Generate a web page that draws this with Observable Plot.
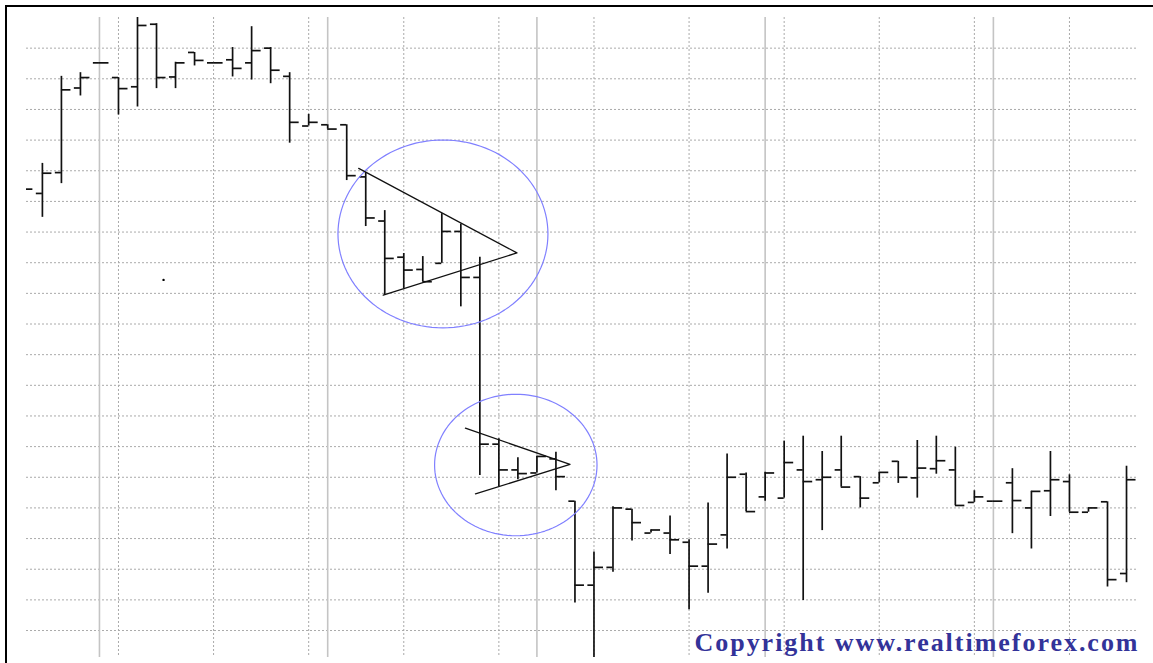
<!DOCTYPE html>
<html>
<head>
<meta charset="utf-8">
<script src="https://cdn.jsdelivr.net/npm/d3@7"></script>
<script src="https://cdn.jsdelivr.net/npm/@observablehq/plot@0.6"></script>
<style>
  html, body { margin: 0; padding: 0; background: #fff; }
  #wrap { position: relative; width: 1153px; height: 663px; overflow: hidden; }
  #frame { position: absolute; left: 5px; top: 5px; right: 0; bottom: 0;
           border-left: 2px solid #000; border-top: 2px solid #000; pointer-events: none; }
</style>
</head>
<body>
<div id="wrap"><div id="frame"></div></div>
<script>
// ---- Data (prices; one bar per session) ----
const open = [1.2720, 1.2713, 1.2747, 1.2885, 1.2926, 1.2902, 1.2887, 1.2989, 1.2903, 1.2943,
  1.2926, 1.2931, 1.2926, 1.2950, 1.2904, 1.2823, 1.2825, 1.2825, 1.2740, 1.2668,
  1.2609, 1.2589, 1.2599, 1.2651, 1.2576, 1.2304, 1.2262, 1.2257, 1.2280, 1.2211,
  1.2074, 1.2103, 1.2198, 1.2159, 1.2159, 1.2144, 1.2105, 1.2156, 1.2255, 1.2218,
  1.2216, 1.2262, 1.2246, 1.2262, 1.2251, 1.2241, 1.2276, 1.2249, 1.2264, 1.2262,
  1.2209, 1.2211, 1.2241, 1.2200, 1.2228, 1.2243, 1.2193, 1.2210, 1.2093];
const high = [1.2720, 1.2762, 1.2904, 1.2910, 1.2926, 1.2902, 1.3000, 1.2990, 1.2927, 1.2943,
  1.2926, 1.2951, 1.2985, 1.2951, 1.2910, 1.2842, 1.2825, 1.2825, 1.2747, 1.2685,
  1.2615, 1.2610, 1.2680, 1.2663, 1.2609, 1.2313, 1.2282, 1.2284, 1.2291, 1.2211,
  1.2128, 1.2202, 1.2198, 1.2164, 1.2187, 1.2148, 1.2208, 1.2288, 1.2257, 1.2258,
  1.2309, 1.2317, 1.2292, 1.2317, 1.2251, 1.2258, 1.2276, 1.2310, 1.2317, 1.2299,
  1.2228, 1.2211, 1.2264, 1.2227, 1.2292, 1.2254, 1.2200, 1.2210, 1.2268];
const low = [1.2720, 1.2674, 1.2729, 1.2872, 1.2926, 1.2841, 1.2854, 1.2884, 1.2884, 1.2921,
  1.2926, 1.2903, 1.2898, 1.2892, 1.2795, 1.2823, 1.2818, 1.2734, 1.2659, 1.2547,
  1.2558, 1.2569, 1.2599, 1.2528, 1.2253, 1.2235, 1.2246, 1.2257, 1.2228, 1.2045,
  1.1948, 1.2095, 1.2146, 1.2159, 1.2124, 1.2034, 1.2061, 1.2133, 1.2194, 1.2211,
  1.2216, 1.2049, 1.2163, 1.2234, 1.2200, 1.2241, 1.2240, 1.2216, 1.2255, 1.2204,
  1.2209, 1.2211, 1.2158, 1.2133, 1.2186, 1.2193, 1.2193, 1.2071, 1.2078];
const close = [1.2720, 1.2746, 1.2882, 1.2902, 1.2926, 1.2884, 1.2987, 1.2902, 1.2926, 1.2930,
  1.2926, 1.2917, 1.2946, 1.2914, 1.2829, 1.2829, 1.2818, 1.2742, 1.2673, 1.2607,
  1.2588, 1.2569, 1.2651, 1.2576, 1.2304, 1.2262, 1.2256, 1.2284, 1.2251, 1.2074,
  1.2103, 1.2200, 1.2176, 1.2164, 1.2148, 1.2105, 1.2141, 1.2250, 1.2194, 1.2257,
  1.2274, 1.2243, 1.2250, 1.2234, 1.2216, 1.2258, 1.2250, 1.2265, 1.2277, 1.2204,
  1.2218, 1.2211, 1.2212, 1.2227, 1.2246, 1.2193, 1.2200, 1.2083, 1.2246];

// grid levels (price) and session separators (bar index)
const priceLevels = [1.200, 1.205, 1.210, 1.215, 1.220, 1.225, 1.230, 1.235, 1.240, 1.245,
  1.250, 1.255, 1.260, 1.265, 1.270, 1.275, 1.280, 1.285, 1.290, 1.295];
const weekLines = [5, 10, 15, 20, 25, 30, 35, 40, 45, 50, 55];
const monthLines = [4, 16, 27, 39, 51];

// annotations: triangle (pennant) lines and circles
const tri1 = [{x: 17.63, y: 1.2754}, {x: 25.95, y: 1.2616}, {x: 18.92, y: 1.2547}];
const tri2 = [{x: 23.24, y: 1.2330}, {x: 28.74, y: 1.2271}, {x: 23.77, y: 1.2223}];
const ellipseCx = [22.06, 25.89];
const ellipseCy = [1.2647, 1.2270];
const ellipseRx = [5.52, 4.27];
const ellipseRy = [0.01532, 0.01154];
const strayDot = [{x: 7.37, y: 1.2572}];
const copyright = "Copyright www.realtimeforex.com";

// ---- build ----
const bars = open.map((o, i) => ({i, open: o, high: high[i], low: low[i], close: close[i]}));
const ellipsePts = [];
ellipseCx.forEach((cx, k) => {
  for (let a = 0; a <= 360; a += 3) {
    const t = a * Math.PI / 180;
    ellipsePts.push({k, x: cx + ellipseRx[k] * Math.cos(t), y: ellipseCy[k] + ellipseRy[k] * Math.sin(t)});
  }
});
const OPEN_TICK = 0.32, CLOSE_TICK = 0.5;

const chart = Plot.plot({
  width: 1153,
  height: 663,
  marginLeft: 26,
  marginRight: 15,
  marginTop: 17,
  marginBottom: 6,
  style: {background: "transparent"},
  x: {domain: [0.164, 58.63], axis: null},
  y: {domain: [1.1956, 1.3000], axis: null},
  marks: [
    Plot.ruleY(priceLevels, {stroke: "#aaa", strokeWidth: 1, strokeDasharray: "2,2"}),
    Plot.ruleX(weekLines, {stroke: "#aaa", strokeWidth: 1, strokeDasharray: "2,2"}),
    Plot.ruleX(monthLines, {stroke: "#c4c4c4", strokeWidth: 1.6}),
    Plot.ruleX(bars, {x: "i", y1: "low", y2: "high", stroke: "#111", strokeWidth: 1.7, clip: true}),
    Plot.ruleY(bars, {y: "open", x1: d => d.i - OPEN_TICK, x2: "i", stroke: "#111", strokeWidth: 1.7, clip: true}),
    Plot.ruleY(bars, {y: "close", x1: "i", x2: d => d.i + CLOSE_TICK, stroke: "#111", strokeWidth: 1.7, clip: true}),
    Plot.line(ellipsePts, {x: "x", y: "y", z: "k", stroke: "#8080ff", strokeWidth: 1.2}),
    Plot.line(tri1, {x: "x", y: "y", stroke: "#111", strokeWidth: 1.3}),
    Plot.line(tri2, {x: "x", y: "y", stroke: "#111", strokeWidth: 1.3}),
    Plot.dot(strayDot, {x: "x", y: "y", r: 1.2, fill: "#000", stroke: null}),
    Plot.text([copyright], {frameAnchor: "bottom-right", text: d => d, textAnchor: "end",
      lineAnchor: "bottom", fontSize: 26, fontWeight: "bold", fontFamily: "Liberation Serif",
      fill: "#333399", dx: -1, dy: -6.5})
  ]
});
chart.style.position = "absolute";
chart.style.left = "0";
chart.style.top = "0";
chart.querySelectorAll("text").forEach(t => {
  if (t.textContent === copyright) {
    t.setAttribute("textLength", "443");
    t.setAttribute("lengthAdjust", "spacing");
  }
});
document.getElementById("wrap").insertBefore(chart, document.getElementById("frame"));
</script>
</body>
</html>
